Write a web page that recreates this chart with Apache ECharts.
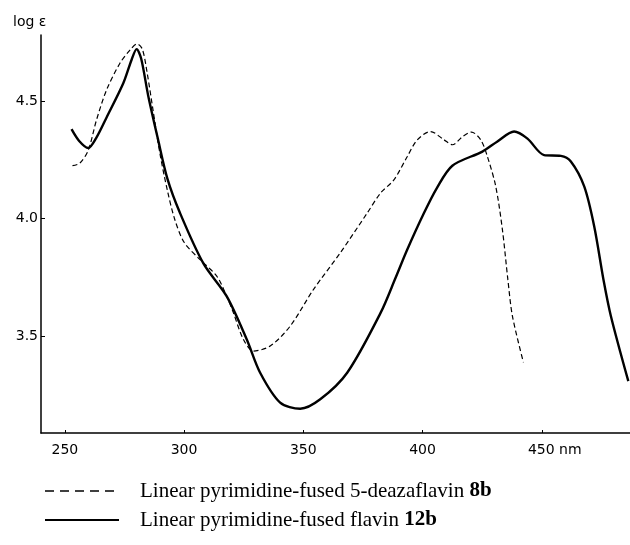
<!DOCTYPE html>
<html>
<head>
<meta charset="utf-8">
<script src="https://cdn.jsdelivr.net/npm/echarts@6/dist/echarts.min.js"></script>
<style>
  html, body { margin: 0; padding: 0; background: #fff; }
  #chart { width: 630px; height: 545px; }
</style>
</head>
<body>
<div id="chart"></div>
<script>
// x ticks / y ticks
var xTicks = [250, 300, 350, 400, 450];
var yTicks = [3.5, 4.0, 4.5];

// 5-deazaflavin 8b (dashed)
var deazaNm = [253.2, 256.3, 259.8, 263.3, 267.5, 273.1, 277.3, 280.3, 282.5, 284.5, 287, 290, 293,
    296, 300, 306.7, 313.7, 317.9, 320.7, 324.9, 329.1, 336.1, 344.5, 354.3, 365.5, 376.8, 382.4, 388,
    393.6, 397.8, 403.4, 409, 412.5, 417, 420.5, 424.4, 427.2, 430.7, 433.5, 435.8, 437.7, 442.3];
var deazaLogE = [4.225, 4.236, 4.29, 4.42, 4.547, 4.66, 4.716, 4.742, 4.72, 4.62, 4.46, 4.27, 4.12,
    4.00, 3.90, 3.826, 3.756, 3.67, 3.60, 3.487, 3.438, 3.459, 3.544, 3.70, 3.855, 4.024, 4.109, 4.165,
    4.264, 4.335, 4.37, 4.335, 4.314, 4.35, 4.368, 4.335, 4.264, 4.137, 3.953, 3.74, 3.586, 3.39];

// flavin 12b (solid)
var flavinNm = [252.8, 256, 259.8, 263, 267.5, 274.5, 278, 280.1, 282, 285, 289, 293,
    298.3, 308.1, 317.9, 326.3, 331.9, 340.3, 348.7, 357.1, 368.4, 382.4, 388.7, 393.6, 400.6, 406,
    412.5, 425.1, 431.4, 438.4, 444, 451, 458, 462.2, 467.8, 472, 475.9, 479, 486.3];
var flavinLogE = [4.38, 4.33, 4.30, 4.34, 4.43, 4.575, 4.675, 4.72, 4.68, 4.52, 4.34, 4.17,
    4.024, 3.81, 3.67, 3.487, 3.346, 3.219, 3.193, 3.233, 3.346, 3.60, 3.749, 3.869, 4.024, 4.13,
    4.225, 4.285, 4.328, 4.37, 4.34, 4.27, 4.267, 4.243, 4.137, 3.967, 3.74, 3.586, 3.31];

var seriesNames = ['Linear pyrimidine-fused 5-deazaflavin |8b', 'Linear pyrimidine-fused flavin |12b'];

function pairs(xs, ys) {
    return xs.map(function (x, i) { return [x, ys[i]]; });
}

var chart = echarts.init(document.getElementById('chart'));
chart.setOption({
    animation: false,
    backgroundColor: '#fff',
    title: {
        text: 'log ε',
        left: 8,
        top: 10,
        textStyle: { fontSize: 14, fontWeight: 'normal', color: '#000', fontFamily: 'DejaVu Sans' }
    },
    grid: { left: 41, right: 0, top: 35, bottom: 112 },
    legend: {
        orient: 'vertical',
        left: 44,
        top: 480,
        padding: 0,
        itemWidth: 74,
        itemHeight: 10,
        itemGap: 7,
        itemStyle: { color: 'rgba(0,0,0,0)', borderWidth: 0, opacity: 0 },
        textStyle: {
            fontFamily: 'Liberation Serif',
            fontSize: 21,
            lineHeight: 22,
            color: '#000',
            padding: [0, 0, 0, 16],
            rich: {
                b: { fontFamily: 'Liberation Serif', fontSize: 21, lineHeight: 22, fontWeight: 'bold', color: '#000' }
            }
        },
        formatter: function (name) {
            var parts = name.split('|');
            return parts[0] + '{b|' + parts[1] + '}';
        },
        data: [
            { name: seriesNames[0], lineStyle: { type: [9, 6], width: 1.3 } },
            { name: seriesNames[1] }
        ]
    },
    xAxis: {
        type: 'value',
        min: 240,
        max: 487,
        axisLine: { lineStyle: { color: '#000', width: 1.5 } },
        axisTick: { inside: true, length: 3, customValues: xTicks, lineStyle: { color: '#000' } },
        axisLabel: {
            customValues: xTicks,
            margin: 10,
            color: '#000',
            fontSize: 14,
            fontFamily: 'DejaVu Sans',
            formatter: function (v) {
                return v === 450 ? '{s|}450 nm' : String(v);
            },
            rich: { s: { width: 26 } }
        },
        splitLine: { show: false }
    },
    yAxis: {
        type: 'value',
        min: 3.09,
        max: 4.78,
        axisLine: { show: true, lineStyle: { color: '#000', width: 1.5 } },
        axisTick: { show: true, inside: true, length: 4, customValues: yTicks, lineStyle: { color: '#000' } },
        axisLabel: {
            customValues: yTicks,
            margin: 3,
            color: '#000',
            fontSize: 14,
            fontFamily: 'DejaVu Sans',
            formatter: function (v) { return v.toFixed(1); }
        },
        splitLine: { show: false }
    },
    series: [
        {
            name: seriesNames[0],
            type: 'line',
            smooth: 0.3,
            symbol: 'none',
            lineStyle: { color: '#000', width: 1.2, type: [5, 3] },
            itemStyle: { color: '#000' },
            data: pairs(deazaNm, deazaLogE)
        },
        {
            name: seriesNames[1],
            type: 'line',
            smooth: 0.3,
            symbol: 'none',
            lineStyle: { color: '#000', width: 2.4 },
            itemStyle: { color: '#000' },
            data: pairs(flavinNm, flavinLogE)
        }
    ]
});
</script>
</body>
</html>
